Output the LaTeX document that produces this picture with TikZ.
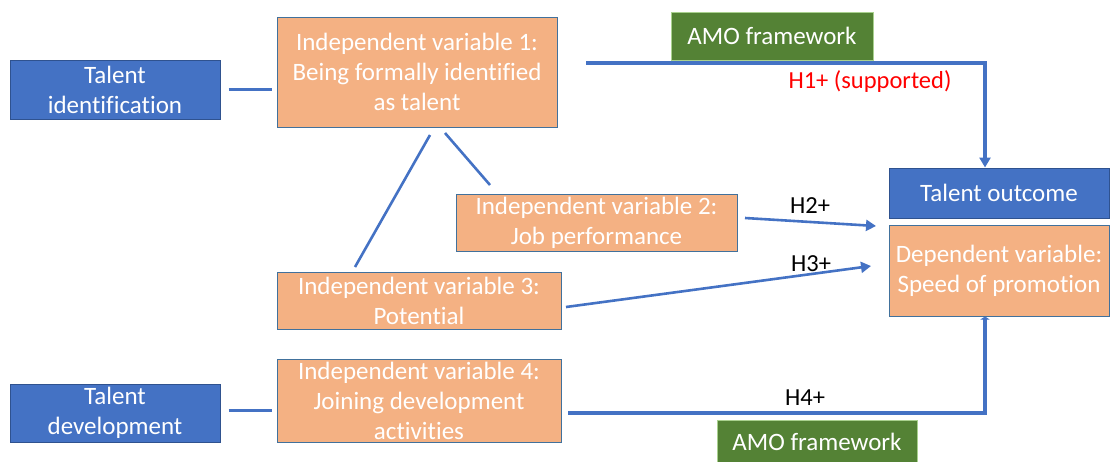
\documentclass[tikz,border=0pt]{standalone}
\usepackage{fontspec}
\setmainfont{Carlito}[Ligatures={NoCommon}]
\usetikzlibrary{arrows.meta,calc}
\definecolor{boxblue}{HTML}{4472C4}
\definecolor{boxblueline}{HTML}{2F528F}
\definecolor{boxorange}{HTML}{F4B183}
\definecolor{orangeline}{HTML}{41719C}
\definecolor{amogreen}{HTML}{548235}
\definecolor{amoline}{HTML}{A9D18E}
\definecolor{lineblue}{HTML}{4472C4}
\definecolor{hred}{HTML}{FF0000}
\begin{document}
\begin{tikzpicture}[x=1pt,y=-1pt,
  base/.style={inner sep=0pt, align=center, text=white, font=\fontsize{25}{30}\selectfont, line width=1pt},
  bluebox/.style={base, fill=boxblue, draw=boxblueline},
  orangebox/.style={base, fill=boxorange, draw=orangeline},
  amobox/.style={base, fill=amogreen, draw=amoline},
  conn/.style={draw=lineblue, line width=3pt},
  hyp/.style={font=\fontsize{24.5}{28}\selectfont, inner sep=0pt},
  tip/.style={-{Triangle[length=10pt,width=11pt]}}]
\useasboundingbox (0,0) rectangle (1110,461);

% nodes
\node[bluebox, minimum width=210pt, minimum height=59pt] (ti) at (115,89.5) {Talent\\identification};
\node[orangebox, minimum width=280pt, minimum height=110pt] (iv1) at (417,72) {Independent variable 1:\\Being formally identified\\as talent};
\node[amobox, minimum width=202pt, minimum height=48pt] (amo1) at (772,36) {AMO framework};
\node[bluebox, minimum width=220pt, minimum height=50pt] (to) at (999,193) {Talent outcome};
\node[orangebox, minimum width=220pt, minimum height=91pt] (dv) at (999,270.5) {Dependent variable:\\Speed of promotion};
\node[orangebox, minimum width=281pt, minimum height=57pt] (iv2) at (596.5,222.5) {Independent variable 2:\\Job performance};
\node[orangebox, minimum width=284pt, minimum height=57pt] (iv3) at (419,300.5) {Independent variable 3:\\Potential};
\node[orangebox, minimum width=284pt, minimum height=83pt] (iv4) at (419,400.5) {Independent variable 4:\\Joining development\\activities};
\node[bluebox, minimum width=210pt, minimum height=58pt] (td) at (115,413) {Talent\\development};
\node[amobox, minimum width=200pt, minimum height=44pt] (amo2) at (817,442) {AMO framework};

% labels
\node[hyp, text=hred] (h1) at (870,82) {H1+ (supported)};
\node[hyp] (h2) at (810,206) {H2+};
\node[hyp] (h3) at (811,264) {H3+};
\node[hyp] (h4) at (805,398) {H4+};

% free ends
\coordinate (h1s) at (586,63);
\coordinate (h4s) at (568,413);
\coordinate (h2s) at (745,218);
\coordinate (h2e) at (876,226);
\coordinate (h3s) at (566,307);
\coordinate (h3e) at (871,266);
\coordinate (a1) at (445,133);
\coordinate (a2) at (490,185);
\coordinate (b1) at (430,135);
\coordinate (b2) at (355,267);

% connectors
\draw[conn] ([xshift=8pt]ti.east |- 0,89) -- ([xshift=-5pt]iv1.west |- 0,89);
\draw[conn] ([xshift=8pt]td.east |- 0,410) -- ([xshift=-5pt]iv4.west |- 0,410);
\draw[conn, line width=2.6pt] (a1) -- (a2);
\draw[conn, line width=2.6pt] (b1) -- (b2);
\draw[conn, line width=3.5pt, tip] (h1s) -| ([xshift=-14pt]to.north);
\draw[conn, line width=2.6pt, tip] (h2s) -- (h2e);
\draw[conn, line width=2.6pt, tip] (h3s) -- (h3e);
\draw[conn, line width=3.5pt, -{Triangle[length=3pt,width=9pt]}] (h4s) -| ([xshift=-14pt]dv.south);
\end{tikzpicture}
\end{document}
